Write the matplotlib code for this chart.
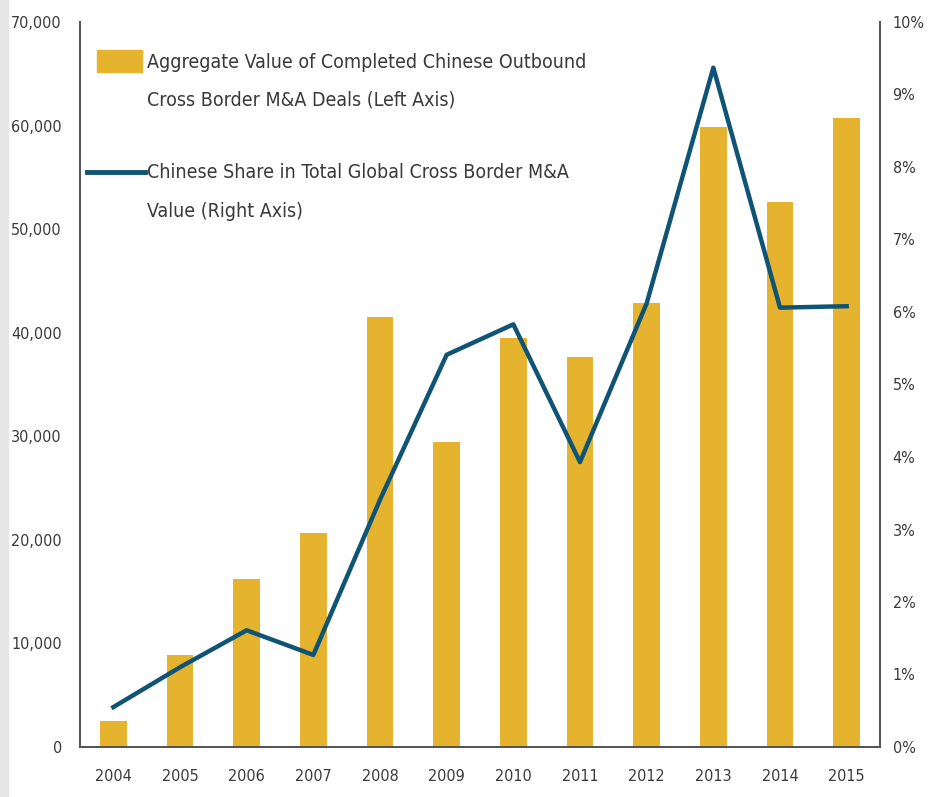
import matplotlib
matplotlib.use("Agg")
import matplotlib.pyplot as plt
from matplotlib.patches import Rectangle
from matplotlib.lines import Line2D
from matplotlib.ticker import FuncFormatter

plt.rcParams['font.family'] = ['DejaVu Sans']
plt.rcParams['font.stretch'] = 'condensed'

years = ['2004', '2005', '2006', '2007', '2008', '2009',
         '2010', '2011', '2012', '2013', '2014', '2015']
deal_value = [2540, 8880, 16220, 20660, 41500, 29440,
              39480, 37640, 42860, 59850, 52610, 60710]
china_share = [0.55, 1.10, 1.61, 1.27, 3.41, 5.41,
               5.83, 3.93, 6.12, 9.37, 6.06, 6.08]

bar_label = ['Aggregate Value of Completed Chinese Outbound',
             'Cross Border M&A Deals (Left Axis)']
line_label = ['Chinese Share in Total Global Cross Border M&A',
              'Value (Right Axis)']

bar_color = '#E5B32E'
line_color = '#0F5474'
text_color = '#3a3a3a'
spine_color = '#555555'

W, H = 931, 797
fig = plt.figure(figsize=(W / 100, H / 100), dpi=100)
fig.patches.append(Rectangle((0, 0), 8 / W, 1, transform=fig.transFigure,
                             color='#e6e6e6', zorder=0))
ax = fig.add_axes([80 / W, 50 / H, 800 / W, 725 / H])
x = list(range(len(years)))
ax.bar(x, deal_value, width=0.4, color=bar_color)
ax.set_xlim(-0.5, len(years) - 0.5)
ax.set_ylim(0, 70000)
ax.set_yticks(range(0, 70001, 10000))
ax.yaxis.set_major_formatter(FuncFormatter(lambda v, p: f'{int(v):,}'))
ax.set_xticks(x)
ax.set_xticklabels(years)

ax2 = ax.twinx()
ax2.plot(x, china_share, color=line_color, linewidth=3.2)
ax2.set_ylim(0, 10)
ax2.set_yticks(range(0, 11))
ax2.yaxis.set_major_formatter(FuncFormatter(lambda v, p: f'{int(v)}%'))

for a in (ax, ax2):
    a.spines['top'].set_visible(False)
    for s in ('left', 'right', 'bottom'):
        a.spines[s].set_color(spine_color)
        a.spines[s].set_linewidth(1.3)
    a.tick_params(length=0, labelsize=11.5, colors=text_color)
ax.tick_params(axis='y', pad=13)
ax.tick_params(axis='x', pad=16)
ax2.tick_params(axis='y', pad=9)

# legend drawn by hand so the keys sit at the first text line
fig.patches.append(Rectangle((97 / W, 1 - 72 / H), 45 / W, 22 / H,
                             transform=fig.transFigure, color=bar_color))
fig.lines.append(Line2D([87 / W, 145 / W], [1 - 172 / H, 1 - 172 / H],
                        transform=fig.transFigure, color=line_color,
                        linewidth=3.5))
for lines, ys in ((bar_label, (62, 100)), (line_label, (172, 212))):
    for txt, yy in zip(lines, ys):
        fig.text(147 / W, 1 - yy / H, txt, va='center', ha='left',
                 fontsize=14, color=text_color)

fig.savefig('out.png', dpi=100)
